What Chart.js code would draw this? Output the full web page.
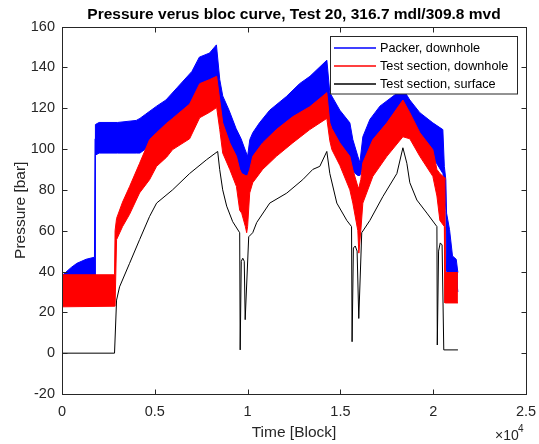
<!DOCTYPE html>
<html>
<head>
<meta charset="utf-8">
<script src="https://cdn.jsdelivr.net/npm/chart.js@4/dist/chart.umd.min.js"></script>
<style>
  html, body { margin: 0; padding: 0; background: #fff; }
  canvas { display: block; }
</style>
</head>
<body>
<canvas id="pressureChart" width="539" height="444"></canvas>
<script>
// ---- data (x in blocks, y in bar) ----
// packer, downhole: oscillating band -> upper / lower envelope
const packerX  = [0, 500, 800, 1300, 1750, 1780, 1800, 2000, 3000, 4000, 4200, 4500, 5100, 5600, 6200, 7000, 7400, 7950, 8320, 8500, 8660, 9000, 9380, 9650, 9850, 10000, 10120, 10280, 10640, 11190, 12090, 12800, 13360, 14270, 14430, 14970, 15510, 15670, 15940, 16050, 16210, 16590, 17130, 17830, 18370, 18740, 19280, 19980, 20520, 20600, 20680, 20720, 20880, 21040, 21240, 21330]
const packerHi = [38, 42, 44, 46, 47, 105, 112, 113, 113, 114, 115, 117, 121, 124, 130, 138, 145, 147, 151, 134, 126, 119, 110, 105, 100, 96.4, 104.6, 108, 112.8, 119, 125.7, 132, 135.6, 143.5, 127.6, 119, 112.8, 104.6, 96.4, 93.3, 106, 114.5, 121, 125.8, 129.5, 124, 117.8, 112.8, 109.5, 91.5, 85, 68.6, 60.5, 47.6, 46, 39.5]
const packerLo = [35, 35, 35, 35, 35, 36, 97, 98, 98, 98, 98, 100, 106, 110, 115, 120, 128, 131, 134, 120, 108, 101, 94, 88, 86, 86, 88, 94, 100, 106, 112, 115, 119, 126, 111, 102, 95, 89, 87, 87, 91, 98, 104, 110, 116, 112, 104, 96, 88, 84, 70, 40, 38, 38, 38, 30]

// test section, downhole: band
const testX  = [0, 2830, 2860, 2940, 3263, 3641, 4180, 4720, 5097, 5637, 5960, 6877, 7417, 7956, 8334, 8500, 8660, 9040, 9400, 9574, 9680, 9880, 9950, 10000, 10114, 10276, 10810, 11550, 12430, 13350, 14268, 14430, 14540, 14969, 15508, 15669, 15939, 15993, 16100, 16209, 16749, 17504, 18367, 18740, 19280, 19980, 20200, 20360, 20600, 20630, 20650, 21333]
const testHi = [38.4, 38.4, 60, 66, 74, 81.6, 93, 104.6, 108, 112.6, 115, 122, 132, 134, 135.6, 124, 112.8, 103, 96.4, 90, 88, 87, 87, 87, 90, 96.4, 103, 109.5, 115.8, 120.7, 127.6, 112.8, 110, 103, 96.4, 90, 81.6, 81, 85, 93.3, 104.6, 112.8, 124, 117.8, 108, 99.7, 90, 88, 86, 85, 39.5, 39.5]
const testLo = [22.7, 23, 23, 55.6, 62, 68, 78.5, 85, 91.5, 96, 99.7, 105, 115.3, 118, 120.3, 109.5, 98, 90, 81.6, 70, 68.6, 62, 59, 62, 78.5, 83.5, 90, 96.4, 103, 109.5, 115, 104, 99.7, 92, 80, 73.5, 60, 49, 60, 73.5, 86.6, 96.4, 106, 105, 96.4, 86.6, 77, 65, 62, 24.6, 24.6, 24.6]

// test section, surface: single line
const surfX = [0, 2830, 2940, 3102, 3641, 4180, 4720, 5097, 5960, 6877, 7794, 8388, 8496, 8658, 8873, 9197, 9574, 9600, 9660, 9740, 9820, 9870, 10060, 10276, 10491, 11193, 12110, 12973, 13512, 13890, 14268, 14430, 14807, 15346, 15600, 15630, 15700, 15800, 15900, 15990, 16150, 16587, 17288, 18043, 18367, 18580, 18740, 19120, 19660, 20200, 20220, 20290, 20380, 20480, 20570, 21333]
const surfY = [0, 0, 26, 32.5, 44, 55.6, 67, 73.5, 80, 88, 94.8, 98.8, 90, 80, 72, 64.4, 59, 1.6, 45, 46.5, 45, 16.4, 57, 59, 64, 73.5, 78.4, 85, 90, 91.5, 98.8, 88, 73.5, 65, 62, 5.6, 51.5, 52.5, 50, 17, 59, 65, 76.7, 88, 100.6, 93, 83.5, 75, 68.6, 62, 4, 50, 54, 53, 1.6, 1.6]

const seriesNames = ['Packer, downhole', 'Test section, downhole', 'Test section, surface']
const seriesColors = ['#0000ff', '#ff0000', '#000000']
const xTickLabels = ['0', '0.5', '1', '1.5', '2', '2.5']

const toPts = (xs, ys) => xs.map((x, i) => ({ x, y: ys[i] }))
const AXIS = '#262626'
const FONT = 'Arial, "Liberation Sans", Helvetica, sans-serif'

// MATLAB-ish frame: box, inward ticks, title, x10^4, legend
const matlabFrame = {
  id: 'matlabFrame',
  afterDraw(chart) {
    const { ctx, chartArea: a, scales: { x, y } } = chart
    const L = Math.round(a.left) + 0.5, R = Math.round(a.right) + 0.5
    const T = Math.round(a.top) + 0.5, B = Math.round(a.bottom) + 0.5
    ctx.save()
    ctx.strokeStyle = AXIS
    ctx.lineWidth = 1
    ctx.strokeRect(L, T, R - L, B - T)
    ctx.beginPath()
    x.ticks.forEach(t => {
      const px = Math.round(x.getPixelForValue(t.value)) + 0.5
      ctx.moveTo(px, B); ctx.lineTo(px, B - 5)
      ctx.moveTo(px, T); ctx.lineTo(px, T + 5)
    })
    y.ticks.forEach(t => {
      const py = Math.round(y.getPixelForValue(t.value)) + 0.5
      ctx.moveTo(L, py); ctx.lineTo(L + 5, py)
      ctx.moveTo(R, py); ctx.lineTo(R - 5, py)
    })
    ctx.stroke()

    // title
    ctx.fillStyle = '#000'
    ctx.font = 'bold 15.5px ' + FONT
    ctx.textAlign = 'center'
    ctx.textBaseline = 'middle'
    ctx.fillText('Pressure verus bloc curve, Test 20, 316.7 mdl/309.8 mvd', (a.left + a.right) / 2, 15)

    // exponent
    ctx.fillStyle = AXIS
    ctx.textAlign = 'left'
    ctx.font = '14px ' + FONT
    ctx.fillText('\u00d710', 495, 436)
    ctx.font = '10px ' + FONT
    ctx.fillText('4', 518, 429)

    // legend
    const lx = 330.5, ly = 36.5, lw = 187, lh = 57.5
    ctx.fillStyle = '#fff'
    ctx.fillRect(lx, ly, lw, lh)
    ctx.strokeStyle = AXIS
    ctx.strokeRect(lx, ly, lw, lh)
    ctx.font = '12.7px ' + FONT
    ctx.textBaseline = 'middle'
    ctx.lineWidth = 1.5
    seriesNames.forEach((name, i) => {
      const ry = 48 + i * 18
      ctx.strokeStyle = seriesColors[i]
      ctx.beginPath(); ctx.moveTo(334, ry); ctx.lineTo(376, ry); ctx.stroke()
      ctx.fillStyle = '#000'
      ctx.fillText(name, 380, ry)
    })
    ctx.restore()
  }
}

const band = (xs, ys, color, order, fill) => ({
  data: toPts(xs, ys), borderColor: color, backgroundColor: color,
  borderWidth: 1, pointRadius: 0, tension: 0, order, fill
})

new Chart(document.getElementById('pressureChart'), {
  type: 'line',
  data: {
    datasets: [
      { label: seriesNames[2], data: toPts(surfX, surfY), borderColor: '#000', borderWidth: 1, pointRadius: 0, tension: 0, order: 0, fill: false },
      band(testX, testHi, '#ff0000', 1, false),
      band(testX, testLo, '#ff0000', 1, '-1'),
      band(packerX, packerHi, '#0000ff', 2, false),
      band(packerX, packerLo, '#0000ff', 2, '-1'),
    ]
  },
  options: {
    responsive: false,
    animation: false,
    devicePixelRatio: 1,
    layout: { padding: { top: 26.5, right: 13, left: 0, bottom: 0 } },
    plugins: { legend: { display: false }, tooltip: { enabled: false }, title: { display: false } },
    scales: {
      x: {
        type: 'linear', min: 0, max: 25000,
        grid: { display: false, drawTicks: false }, border: { display: false },
        ticks: { stepSize: 5000, padding: 9, color: AXIS, font: { size: 14.5, family: FONT },
          callback: (v) => xTickLabels[Math.round(v / 5000)], maxRotation: 0 },
        title: { display: true, text: 'Time [Block]', color: AXIS, font: { size: 15.5, family: FONT }, padding: { top: 0, bottom: 2 } },
        afterFit: (s) => { s.height = 50; s.paddingLeft = 0; s.paddingRight = 0 }
      },
      y: {
        min: -20, max: 160,
        grid: { display: false, drawTicks: false }, border: { display: false },
        ticks: { stepSize: 20, padding: 7, color: AXIS, font: { size: 14.5, family: FONT } },
        title: { display: true, text: 'Pressure [bar]', color: AXIS, font: { size: 15.5, family: FONT }, padding: { top: 11, bottom: 0 } },
        afterFit: (s) => { s.width = 62 }
      }
    }
  },
  plugins: [matlabFrame]
})
</script>
</body>
</html>
